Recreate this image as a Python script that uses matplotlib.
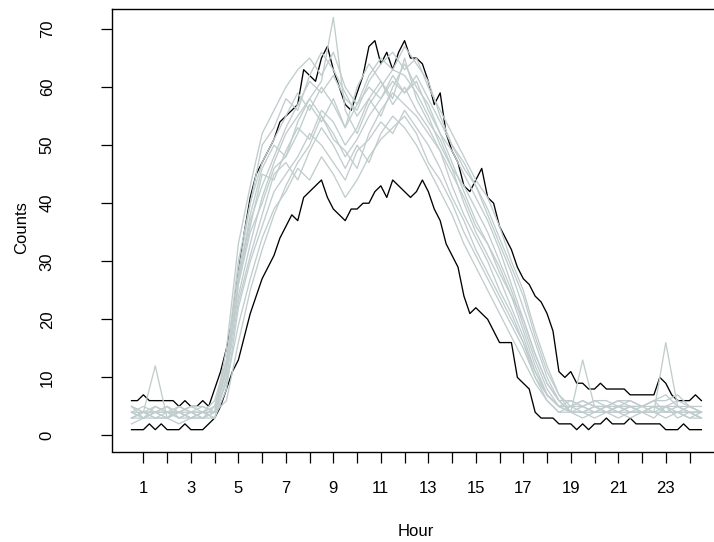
import numpy as np
import matplotlib
matplotlib.use('agg')
import matplotlib.pyplot as plt

plt.rcParams['font.family'] = ['Liberation Sans', 'DejaVu Sans']

# hours of the readings (black days every 15 min, grey days every 30 min)
hours_black = np.arange(0.5, 24.51, 0.25)
hours_gray = np.arange(0.5, 24.51, 0.5)

# highest day
day_high = [6, 6, 7, 6, 6, 6, 6, 6, 5, 6, 5, 5, 6, 5, 8, 11, 15, 20,
            28, 35, 41, 45, 47, 49, 51, 54, 55, 56, 57, 63, 62, 61, 65, 67, 63, 60, 57, 56,
            59, 62, 67, 68, 64, 66, 63, 66, 68, 65, 65, 64, 61, 57, 59, 52, 49, 47, 43, 42,
            44, 46, 41, 40, 36, 34, 32, 29, 27, 26, 24, 23, 21, 18, 11, 10, 11, 9, 9, 8,
            8, 9, 8, 8, 8, 8, 7, 7, 7, 7, 7, 10, 9, 7, 6, 6, 6, 7, 6]

# lowest day
day_low = [1, 1, 1, 2, 1, 2, 1, 1, 1, 2, 1, 1, 1, 2, 3, 5, 8, 11,
           13, 17, 21, 24, 27, 29, 31, 34, 36, 38, 37, 41, 42, 43, 44, 41, 39, 38, 37, 39,
           39, 40, 40, 42, 43, 41, 44, 43, 42, 41, 42, 44, 42, 39, 37, 33, 31, 29, 24, 21,
           22, 21, 20, 18, 16, 16, 16, 10, 9, 8, 4, 3, 3, 3, 2, 2, 2, 1, 2, 1,
           2, 2, 3, 2, 2, 2, 3, 2, 2, 2, 2, 2, 1, 1, 1, 2, 1, 1, 1]

# other days
gray_days = [
    [4, 3, 5, 4, 3, 4, 3, 5,
     13, 30, 40, 50, 53, 58, 56, 62, 66, 63, 59, 55, 58, 61, 57, 60, 56, 53, 49, 45, 41, 36, 33, 29, 24, 18, 12, 7, 5,
     4, 5, 4, 4, 5, 4, 4, 5, 4, 4, 3, 4],
    [3, 4, 3, 3, 4, 3, 4, 4,
     12, 24, 33, 41, 47, 52, 55, 58, 61, 72, 56, 52, 57, 60, 63, 62, 59, 55, 50, 46, 40, 35, 31, 27, 22, 17, 11, 7, 5,
     5, 4, 5, 4, 4, 5, 4, 4, 5, 4, 3, 3],
    [5, 4, 12, 3, 5, 4, 3, 4,
     9, 19, 27, 34, 39, 42, 46, 44, 48, 45, 41, 44, 48, 51, 53, 55, 52, 47, 44, 40, 35, 31, 27, 23, 19, 15, 10, 6, 4,
     5, 6, 5, 5, 4, 5, 5, 6, 4, 5, 4, 4],
    [3, 3, 4, 5, 3, 3, 4, 3,
     10, 26, 36, 45, 44, 49, 53, 51, 56, 54, 50, 53, 58, 55, 60, 64, 60, 57, 52, 47, 42, 37, 33, 28, 24, 20, 14, 9, 6,
     4, 3, 4, 4, 3, 4, 4, 3, 5, 3, 4, 3],
    [4, 5, 4, 3, 4, 5, 4, 4,
     11, 26, 35, 40, 46, 48, 52, 57, 54, 58, 53, 57, 62, 65, 63, 67, 64, 61, 55, 50, 46, 43, 38, 33, 28, 22, 16, 10, 6,
     4, 13, 5, 4, 5, 5, 4, 5, 4, 4, 5, 4],
    [2, 3, 3, 3, 2, 3, 3, 3,
     8, 22, 30, 36, 42, 45, 48, 52, 50, 47, 44, 49, 51, 54, 52, 56, 53, 50, 46, 41, 37, 32, 28, 24, 20, 16, 11, 7, 5,
     4, 4, 3, 4, 4, 3, 4, 4, 16, 5, 4, 3],
    [5, 4, 4, 5, 4, 5, 5, 4,
     15, 33, 43, 52, 56, 60, 63, 65, 62, 66, 60, 57, 60, 58, 62, 59, 61, 56, 52, 49, 45, 41, 37, 32, 26, 20, 14, 9, 6,
     6, 5, 6, 6, 5, 6, 5, 6, 7, 5, 4, 4],
    [3, 4, 3, 4, 4, 3, 3, 4,
     6, 16, 25, 32, 38, 43, 47, 50, 55, 52, 48, 51, 55, 58, 61, 59, 62, 58, 54, 50, 47, 43, 39, 34, 29, 24, 17, 11, 7,
     4, 4, 5, 4, 5, 4, 4, 4, 3, 4, 4, 3],
    [4, 3, 4, 4, 3, 4, 4, 5,
     11, 27, 38, 46, 50, 48, 54, 58, 55, 51, 49, 46, 52, 56, 59, 57, 55, 52, 49, 43, 38, 34, 30, 25, 21, 16, 10, 7, 5,
     5, 6, 5, 5, 6, 5, 5, 5, 5, 6, 5, 4],
    [3, 4, 4, 3, 4, 3, 4, 3,
     10, 23, 31, 38, 45, 47, 44, 49, 53, 50, 46, 50, 47, 52, 55, 53, 50, 46, 42, 38, 33, 29, 25, 21, 17, 13, 9, 6, 4,
     4, 4, 4, 5, 4, 4, 5, 4, 4, 4, 4, 4],
    [4, 4, 5, 4, 5, 4, 4, 6,
     13, 27, 37, 43, 48, 53, 57, 61, 59, 62, 58, 56, 61, 64, 66, 63, 65, 60, 56, 52, 48, 44, 41, 36, 30, 25, 18, 12, 7,
     5, 5, 4, 5, 5, 5, 4, 5, 5, 5, 5, 5],
    [5, 3, 4, 4, 4, 4, 5, 4,
     12, 28, 40, 47, 51, 55, 59, 56, 60, 57, 53, 60, 64, 61, 58, 65, 58, 54, 51, 46, 43, 39, 35, 30, 25, 19, 13, 8, 5,
     6, 5, 6, 5, 6, 6, 5, 6, 6, 7, 5, 4],
]

x_ticks = list(range(1, 25))
x_labels = [str(h) if h % 2 == 1 else '' for h in x_ticks]
y_ticks = list(range(0, 71, 10))

W, H = 714, 542
fig = plt.figure(figsize=(W / 100, H / 100), dpi=100)
left, right, top, bottom = 111.6, 721.3, 9, 451.5
ax = fig.add_axes([left / W, 1 - bottom / H, (right - left) / W, (bottom - top) / H])

ax.plot(hours_black, day_high, color='black', lw=0.95)
ax.plot(hours_black, day_low, color='black', lw=0.95)
for d in gray_days:
    ax.plot(hours_gray, d, color='#C1CDCD', lw=0.95)

ax.set_xlim(-0.339, 25.339)
ax.set_ylim(-2.76, 73.45)

ax.set_xticks(x_ticks)
ax.set_xticklabels(x_labels, fontsize=12)
ax.set_yticks(y_ticks)
ax.set_yticklabels([str(v) for v in y_ticks], fontsize=12, rotation=90, va='center')
ax.tick_params(axis='x', direction='out', length=8, width=0.9, pad=13)
ax.tick_params(axis='y', direction='out', length=8, width=0.9, pad=33)
for s in ax.spines.values():
    s.set_linewidth(1.0)
ax.spines['right'].set_visible(False)

fig.text(22 / W, 1 - 228 / H, 'Counts', rotation=90, ha='center', va='center', fontsize=12)
fig.text(416 / W, 1 - 531 / H, 'Hour', ha='center', va='center', fontsize=12)

fig.savefig('out.png', dpi=100)
